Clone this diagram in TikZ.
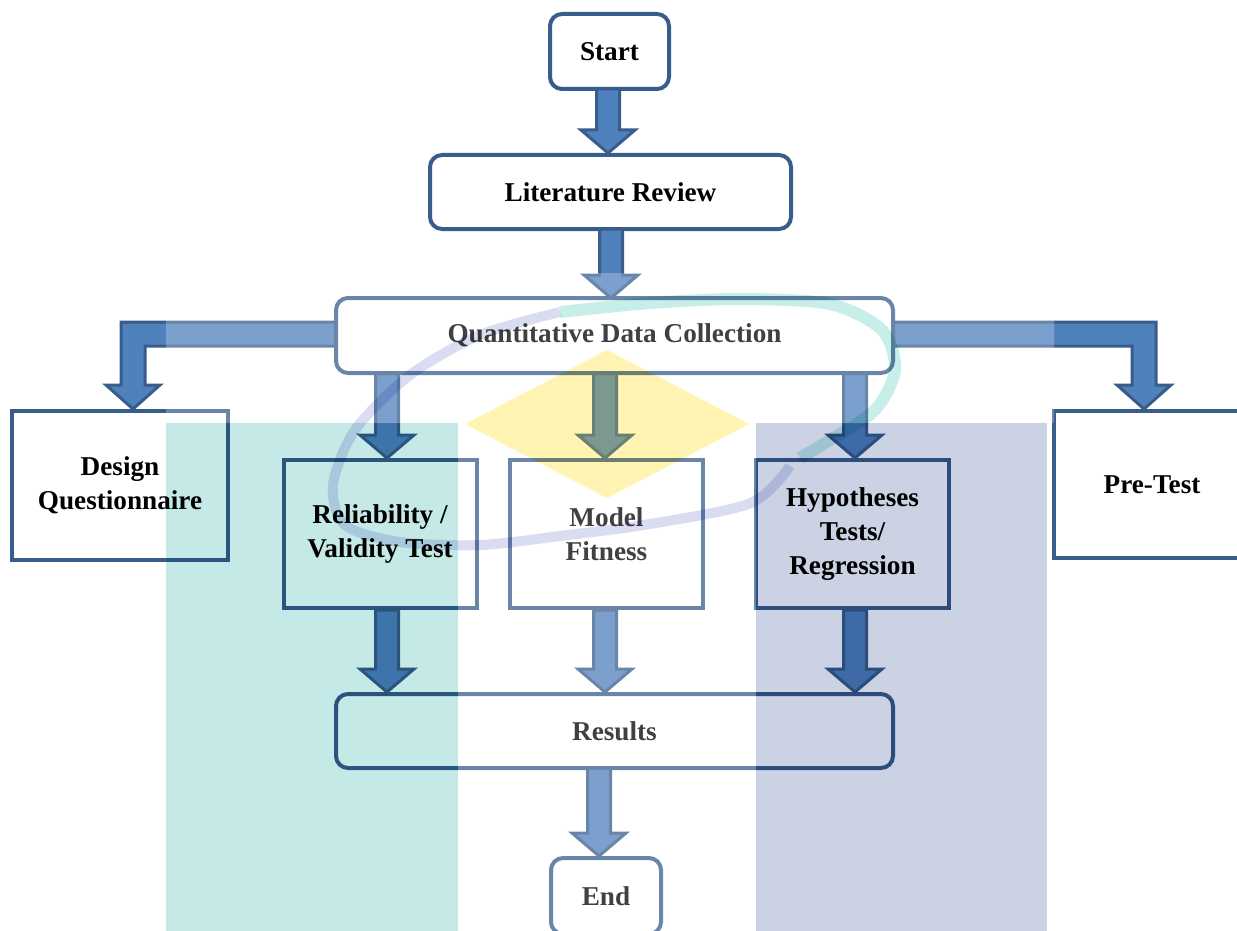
\documentclass[tikz,border=0pt]{standalone}
\usepackage{fontspec}
\setmainfont{Liberation Serif}
\usepackage{tikz}
\usetikzlibrary{calc}
\definecolor{boxline}{RGB}{56,93,138}
\definecolor{arrowfill}{RGB}{79,129,189}
\definecolor{wmteal}{RGB}{197,233,231}
\definecolor{wmlilac}{RGB}{202,210,228}
\definecolor{wmyellow}{RGB}{255,244,178}
\definecolor{ringlilac}{RGB}{218,221,242}
\definecolor{ringteal}{RGB}{200,238,234}
\newcommand{\boxfont}{\fontsize{13.6}{17}\selectfont\bfseries}

% block arrow going down from #2 to the top of #3
\newcommand{\blockarr}[3][0pt]{%
  \draw[barrow] let \p1=(#2), \p2=(#3) in
    (\x2+#1-5.75pt,\y1) -- (\x2+#1-5.75pt,\y2+11.5pt) -- (\x2+#1-13.5pt,\y2+11.5pt)
    -- (\x2+#1,\y2) -- (\x2+#1+13.5pt,\y2+11.5pt) -- (\x2+#1+5.75pt,\y2+11.5pt)
    -- (\x2+#1+5.75pt,\y1) -- cycle;}

\begin{document}
\begin{tikzpicture}[x=0.5pt, y=-0.5pt,
    flowbox/.style={draw=boxline, line width=2pt, fill=white, align=center,
                    font=\boxfont, inner sep=0pt},
    termbox/.style={flowbox, rounded corners=6pt},
    barrow/.style={fill=arrowfill, draw=boxline, line width=1.5pt, line join=miter}]

  \useasboundingbox (0,0) rectangle (1237,931);

  % arrows first, boxes on top
  \coordinate (startbot) at (609.5,89);
  \coordinate (litbot) at (610.5,229);
  \coordinate (qdctop) at (614.5,298);
  \coordinate (qdcbot) at (614.5,373);
  \coordinate (resbot) at (614.5,768);

  \node [termbox, minimum width=59.5pt, minimum height=37.5pt] (start)
        at (609.5,51.5) {Start};
  \node [termbox, minimum width=180.5pt, minimum height=37pt] (litrev)
        at (610.5,192) {Literature Review};

  \blockarr[-1.25pt]{startbot}{litrev.north}
  \blockarr[-1.75pt]{litbot}{qdctop}

  \node [flowbox, minimum width=108pt, minimum height=74.5pt] (design)
        at (120,485.5) {Design\\Questionnaire};
  \node [flowbox, minimum width=96.5pt, minimum height=74pt] (relval)
        at (380,534) {Reliability /\\Validity Test};
  \node [flowbox, minimum width=96.5pt, minimum height=74pt] (fitness)
        at (606.5,534) {Model\\Fitness};
  \node [flowbox, minimum width=96.5pt, minimum height=74pt] (hypo)
        at (852.5,534) {Hypotheses\\Tests/\\Regression};
  \node [flowbox, minimum width=98pt, minimum height=73.5pt] (pretest)
        at (1152,484.5) {Pre-Test};

  \blockarr[3.5pt]{qdcbot}{relval.north}
  \blockarr[-0.75pt]{qdcbot}{fitness.north}
  \blockarr[1.25pt]{qdcbot}{hypo.north}

  \draw[barrow] let \p1=(qdctop), \p2=(design.north) in
    (\x1,\y1-12pt) -- (\x2+0.5pt,\y1-12pt) -- (\x2+0.5pt,\y2+12pt)
    -- (\x2-7pt,\y2+12pt) -- (\x2+6.5pt,\y2) -- (\x2+20pt,\y2+12pt)
    -- (\x2+12.5pt,\y2+12pt) -- (\x2+12.5pt,\y1-24pt) -- (\x1,\y1-24pt) -- cycle;
  \draw[barrow] let \p1=(qdctop), \p2=(pretest.north) in
    (\x1,\y1-12pt) -- (\x2+2pt,\y1-12pt) -- (\x2+2pt,\y2+12pt)
    -- (\x2+9.5pt,\y2+12pt) -- (\x2-4pt,\y2) -- (\x2-17.5pt,\y2+12pt)
    -- (\x2-10pt,\y2+12pt) -- (\x2-10pt,\y1-24pt) -- (\x1,\y1-24pt) -- cycle;

  \node [termbox, minimum width=278.5pt, minimum height=37.5pt] (qdc)
        at (614.5,335.5) {Quantitative Data Collection};

  \node [termbox, minimum width=278.5pt, minimum height=37pt] (results)
        at (614.5,731) {Results};
  \node [termbox, minimum width=55pt, minimum height=38pt] (finish)
        at (606,896) {End};

  \blockarr[3.5pt]{relval.south}{results.north -| relval.south}
  \blockarr[-0.75pt]{fitness.south}{results.north -| fitness.south}
  \blockarr[1.25pt]{hypo.south}{results.north -| hypo.south}
  \blockarr[-3.5pt]{resbot}{finish.north}

  % watermark lying over the chart
  \fill[white, opacity=0.25] (166,273) rectangle (1054,423)
                             (458,423) rectangle (756,931);
  \fill[wmteal, blend mode=multiply] (166,423) rectangle (458,931);
  \fill[wmlilac, blend mode=multiply] (756,423) rectangle (1047,931);
  \fill[wmyellow, blend mode=multiply]
    (465,424) -- (607,350) -- (749,424) -- (607,498) -- cycle;
  \draw[ringlilac, line width=5pt, blend mode=multiply]
    plot[smooth] coordinates {(560,312) (480,335) (410,375) (355,430) (333,485)
      (345,525) (400,542) (480,545) (560,536) (650,524) (751,503) (790,466)};
  \draw[ringteal, line width=6pt, blend mode=multiply]
    plot[smooth] coordinates {(560,312) (650,303) (740,299) (830,304) (882,330)
      (895,370) (875,410) (830,440) (800,458)};

\end{tikzpicture}
\end{document}
